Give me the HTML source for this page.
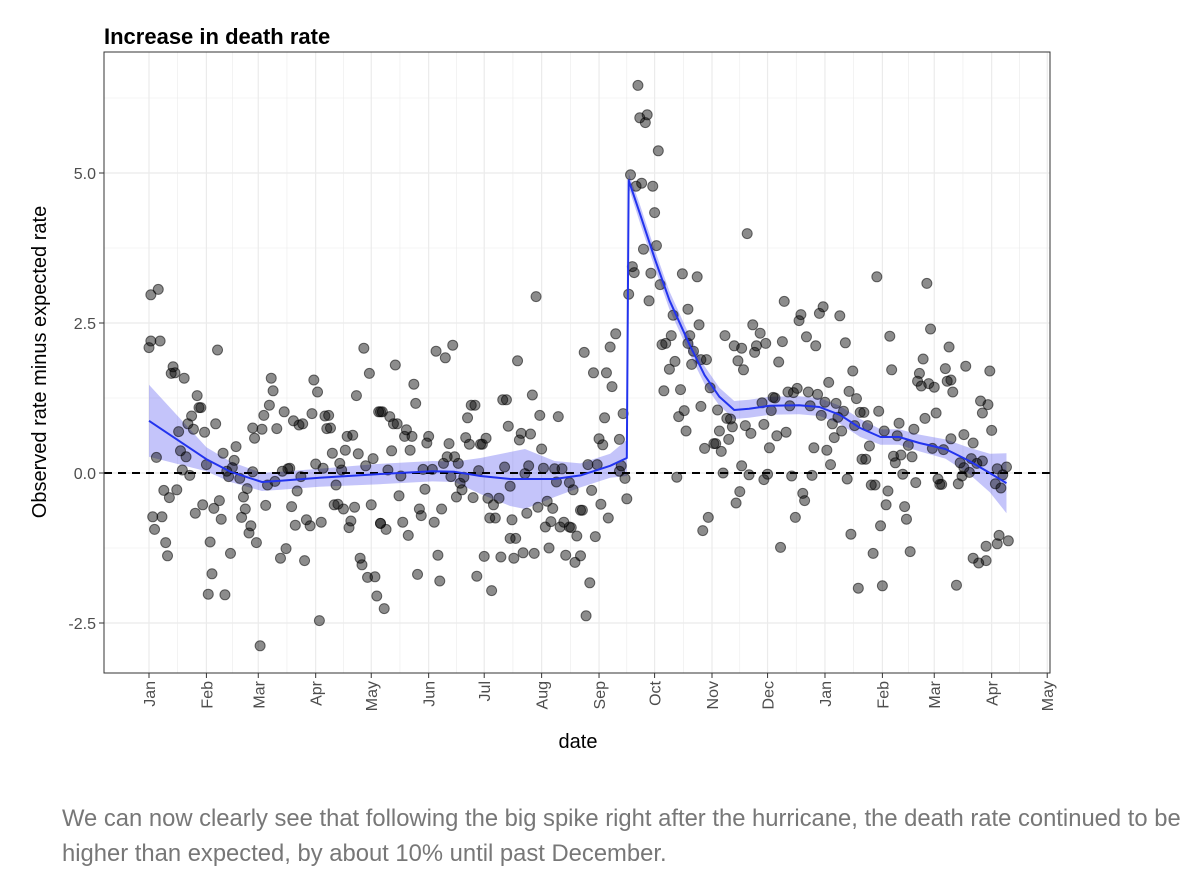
<!DOCTYPE html>
<html><head><meta charset="utf-8"><style>
body{margin:0;background:#fff;width:1200px;height:871px;overflow:hidden;font-family:"Liberation Sans",sans-serif}
#cap{position:absolute;left:62px;top:801px;font-size:23.8px;line-height:35px;color:#777;width:1135px}
</style></head><body>
<svg id="chart" width="1200" height="790" style="position:absolute;left:0;top:0"></svg>
<div id="cap">We can now clearly see that following the big spike right after the hurricane, the death rate continued to be higher than expected, by about 10% until past December.</div>
<script>
const tickLabels=["Jan","Feb","Mar","Apr","May","Jun","Jul","Aug","Sep","Oct","Nov","Dec","Jan","Feb","Mar","Apr","May"];
const tickDays=[0,31,59,90,120,151,181,212,243,273,304,334,365,396,424,455,485];
const yTicks=[-2.5,0,2.5,5];
const days=[1,5,0,1,6,37,13,12,14,19,26,27,28,23,21,24,36,30,16,17,20,4,18,22,31,40,47,46,45,42,43,49,53,51,8,15,11,2,7,3,9,10,25,29,35,38,39,33,34,32,41,44,50,52,55,54,58,60,56,57,61,62,65,66,67,69,73,78,81,83,88,89,91,56,64,68,72,75,76,82,80,63,77,79,85,87,93,84,71,74,92,90,94,95,97,96,98,99,106,107,110,113,103,104,101,100,102,105,111,109,108,114,115,118,122,123,121,117,112,116,119,124,120,125,
133,143,144,125,126,130,132,134,139,138,142,141,131,151,150,155,160,164,162,129,136,148,153,159,161,165,167,163,170,168,169,149,166,175,135,146,147,158,154,137,125,128,140,156,145,157,127,177,172,171,173,174,176,179,180,182,178,183,186,184,187,189,181,190,185,191,193,194,192,195,196,195,198,197,199,200,201,206,207,211,212,221,205,203,213,219,223,220,227,229,215,210,204,218,217,214,222,224,227,228,231,233,234,216,202,208,225,230,233,238,236,239,241,244,248,237,242,243,245,254,246,256,250,247,240,249,252,235,209,255,254,257,258,
264,265,269,268,275,260,263,266,272,273,274,267,261,262,271,276,259,270,323,288,296,283,291,297,343,277,279,282,292,291,294,298,301,284,281,293,278,287,303,311,326,330,333,328,327,316,320,318,321,342,340,289,286,298,307,312,314,315,308,313,290,300,305,306,309,331,337,338,336,332,322,325,339,335,320,324,334,332,310,285,319,317,302,299,341,
393,420,422,400,432,418,441,454,401,430,416,415,417,421,424,431,433,434,352,351,362,364,373,355,360,376,380,367,350,348,345,356,361,346,357,365,371,363,369,375,372,378,382,374,370,344,359,366,368,384,386,394,381,388,397,405,404,389,385,387,402,406,403,412,410,413,419,425,423,429,433,440,445,449,453,450,455,438,440,443,444,447,450,439,458,463,461,457,460,347,358,377,407,426,427,428,414,437,390,392,399,353,354,398,408,409,395,349,379,391,411,383,396,436,445,448,452,452,458,459,464];
const vals=[2.97,3.06,2.09,2.2,2.2,2.05,1.77,1.66,1.67,1.58,1.29,1.09,1.09,0.95,0.82,0.73,0.82,0.68,0.69,0.37,0.27,0.26,0.05,-0.04,0.14,0.33,0.44,0.21,0.09,0.03,-0.06,-0.09,-0.26,-0.4,-0.29,-0.28,-0.41,-0.73,-0.73,-0.94,-1.16,-1.38,-0.67,-0.53,-0.59,-0.46,-0.77,-1.15,-1.68,-2.02,-2.03,-1.34,-0.74,-0.6,-0.88,-1.0,-1.16,-2.88,0.75,0.58,0.73,0.96,1.13,1.58,1.37,0.74,1.02,0.87,0.8,0.82,0.99,1.55,1.35,0.02,-0.2,-0.14,0.03,0.07,0.08,-0.06,-0.3,-0.54,-0.56,-0.87,-0.78,-0.88,-0.82,-1.46,-1.42,-1.26,-2.46,0.15,0.08,0.95,0.96,0.74,0.75,0.33,0.38,0.61,0.63,0.32,0.16,0.05,-0.2,-0.53,-0.52,-0.6,-0.57,-0.8,-0.91,-1.42,-1.53,-1.74,-1.73,-2.05,0.24,0.12,1.29,2.08,1.66,1.02,-0.53,-0.84,
1.8,1.48,1.16,1.02,1.02,0.94,0.82,0.82,0.72,0.61,0.61,0.38,0.37,0.61,0.5,2.03,1.92,2.13,0.49,0.05,-0.05,0.06,0.06,0.16,0.27,0.27,0.16,-0.06,-0.07,-0.17,-0.28,-0.27,-0.4,-0.41,-0.38,-0.6,-0.71,-0.6,-0.82,-0.82,-0.84,-0.94,-1.04,-1.37,-1.69,-1.8,-2.26,-1.72,0.92,0.59,0.48,1.13,1.13,0.48,0.48,0.58,0.04,-0.42,-0.53,-0.75,-0.75,-0.42,-1.39,-1.4,-1.96,1.22,1.22,0.78,0.1,-0.22,-0.78,-1.09,-1.09,-1.42,1.87,0.55,0.66,0.65,1.3,0.96,0.4,0.94,0.12,-0.01,0.08,0.07,0.07,-0.15,-0.16,-0.28,-0.47,-0.57,-0.67,-0.59,-0.81,-0.9,-0.9,-0.82,-0.9,-0.91,-1.05,-0.62,-0.62,-1.25,-1.33,-1.34,-1.37,-1.49,-1.38,-1.83,-2.38,-0.29,-1.06,-0.52,-0.75,0.14,0.14,0.57,0.47,0.56,0.92,0.99,1.44,1.67,1.67,2.1,2.32,2.01,2.94,0.12,0.03,-0.09,-0.43,
6.46,5.92,5.97,5.84,5.37,4.97,4.78,4.83,4.78,4.34,3.79,3.73,3.44,3.34,3.33,3.14,2.98,2.87,3.99,3.32,3.27,2.63,2.73,2.47,2.86,2.14,2.16,2.29,2.29,2.16,2.03,1.89,1.89,1.86,1.73,1.81,1.37,1.39,1.42,2.29,2.47,2.33,2.16,2.12,2.01,2.12,2.08,1.87,1.72,2.19,1.85,1.04,0.94,1.11,1.05,0.91,0.9,0.77,0.7,0.56,0.7,0.41,0.49,0.49,0.36,1.17,1.26,1.25,1.04,0.81,0.79,0.66,0.62,0.42,0.12,-0.03,-0.02,-0.11,0.0,-0.07,-0.31,-0.5,-0.74,-0.96,-1.24,
3.27,3.16,2.4,2.28,2.1,1.9,1.78,1.7,1.72,1.74,1.66,1.53,1.45,1.49,1.43,1.53,1.55,1.35,2.64,2.54,2.66,2.77,2.62,2.27,2.12,2.17,1.7,1.51,1.41,1.34,1.35,1.35,1.31,1.12,1.12,1.18,1.16,0.96,0.82,1.03,0.93,1.36,1.24,0.7,0.59,0.68,0.42,0.38,0.14,1.01,1.01,1.03,0.79,0.79,0.7,0.83,0.62,0.45,0.23,0.23,0.28,0.3,0.17,0.27,0.46,0.73,0.91,1.0,0.41,0.39,0.57,0.64,0.5,1.2,1.14,1.0,0.71,0.17,0.09,0.01,0.24,0.16,0.2,-0.05,0.07,0.1,-0.03,-0.18,-0.25,-0.05,-0.04,-0.1,-0.02,-0.1,-0.19,-0.19,-0.16,-0.18,-0.2,-0.2,-0.3,-0.34,-0.46,-0.53,-0.56,-0.77,-0.88,-0.74,-1.02,-1.34,-1.31,-1.92,-1.88,-1.87,-1.42,-1.5,-1.46,-1.22,-1.18,-1.04,-1.13];
const fit1Days=[0,31,44,61,71,92,123,153,165,179,195,203,219,233,249,258];
const fit1=[0.87,0.23,0.02,-0.15,-0.13,-0.08,-0.02,0.03,0.02,-0.05,-0.1,-0.1,-0.1,-0.04,0.12,0.25];
const fit1Se=[0.6,0.2,0.17,0.15,0.15,0.15,0.17,0.17,0.17,0.3,0.45,0.5,0.3,0.2,0.2,0.3];
const fit2Days=[259,265,273,281,292,300,308,316,324,335,351,362,373,384,395,405,416,430,443,454,463];
const fit2=[4.88,4.33,3.58,2.88,2.13,1.63,1.27,1.05,1.07,1.12,1.13,1.1,0.97,0.75,0.6,0.6,0.5,0.4,0.2,0.0,-0.17];
const fit2Se=[0.12,0.15,0.15,0.15,0.15,0.15,0.15,0.15,0.15,0.15,0.15,0.15,0.15,0.15,0.13,0.13,0.14,0.16,0.22,0.32,0.5];

const NS='http://www.w3.org/2000/svg';
const svg=document.getElementById('chart');
const L=104,R=1050,T=52,B=673;
const xs=d=>149+d*1.852;
const ys=v=>473-v*60;
function mk(tag,attrs,parent){const e=document.createElementNS(NS,tag);for(const k in attrs)e.setAttribute(k,attrs[k]);(parent||svg).appendChild(e);return e;}
let t=mk('text',{x:104,y:44,'font-size':22,'font-weight':'bold',fill:'#000'});t.textContent='Increase in death rate';


const grid=mk('g',{});


for(let v=-3.75;v<=6.5;v+=1.25){const y=ys(v);if(y<T||y>B)continue;mk('line',{x1:L,x2:R,y1:y,y2:y,stroke:'#ebebeb','stroke-width':(Math.abs(v/2.5-Math.round(v/2.5))<0.01)?1.2:0.6},grid);}
for(let i=0;i<tickDays.length;i++){const x=xs(tickDays[i]);mk('line',{x1:x,x2:x,y1:T,y2:B,stroke:'#ebebeb','stroke-width':1.2},grid);
 if(i<tickDays.length-1){const xm=xs((tickDays[i]+tickDays[i+1])/2);mk('line',{x1:xm,x2:xm,y1:T,y2:B,stroke:'#ebebeb','stroke-width':0.6},grid);}}
function ribbon(ds,f,se,name){let up=ds.map((d,i)=>xs(d)+','+ys(f[i]+se[i]));let lo=ds.map((d,i)=>xs(d)+','+ys(f[i]-se[i])).reverse();
 const p=mk('polygon',{points:up.concat(lo).join(' '),fill:'rgba(60,60,240,0.3)'});
 
 }
ribbon(fit1Days,fit1,fit1Se,'confidence-band-before');
ribbon(fit2Days,fit2,fit2Se,'confidence-band-after');
const zl=mk('line',{x1:L,x2:R,y1:ys(0),y2:ys(0),stroke:'#000','stroke-width':2,'stroke-dasharray':'8,6'});


const pts=mk('g',{});


for(let i=0;i<days.length;i++){const c=mk('circle',{cx:xs(days[i]),cy:ys(vals[i]),r:5,fill:'rgba(0,0,0,0.45)',stroke:'rgba(0,0,0,0.55)','stroke-width':1},pts);
 
 }
const ld=fit1Days.map((d,i)=>xs(d)+','+ys(fit1[i])).concat(fit2Days.map((d,i)=>xs(d)+','+ys(fit2[i]))).join(' ');
const fl=mk('polyline',{points:ld,fill:'none',stroke:'#2233ee','stroke-width':2,'stroke-linejoin':'round'});


const fr=mk('rect',{x:L,y:T,width:R-L,height:B-T,fill:'none',stroke:'#333','stroke-width':1});


for(const v of yTicks){const y=ys(v);mk('line',{x1:L-5,x2:L,y1:y,y2:y,stroke:'#333'});
 const tt=mk('text',{x:L-8,y:y+6,'text-anchor':'end','font-size':16,fill:'#4d4d4d'});tt.textContent=v.toFixed(1);
 
 }
for(let i=0;i<tickDays.length;i++){const x=xs(tickDays[i]);mk('line',{x1:x,x2:x,y1:B,y2:B+5,stroke:'#333'});
 const tt=mk('text',{x:0,y:0,'text-anchor':'end','font-size':16,fill:'#4d4d4d',transform:`translate(${x+6},${B+8}) rotate(-90)`});tt.textContent=tickLabels[i];
 
 }
const xt=mk('text',{x:578,y:748,'text-anchor':'middle','font-size':20,fill:'#000'});xt.textContent='date';


const yt=mk('text',{x:0,y:0,'text-anchor':'middle','font-size':20,fill:'#000',transform:'translate(46,362) rotate(-90)'});yt.textContent='Observed rate minus expected rate';


</script>
</body></html>
